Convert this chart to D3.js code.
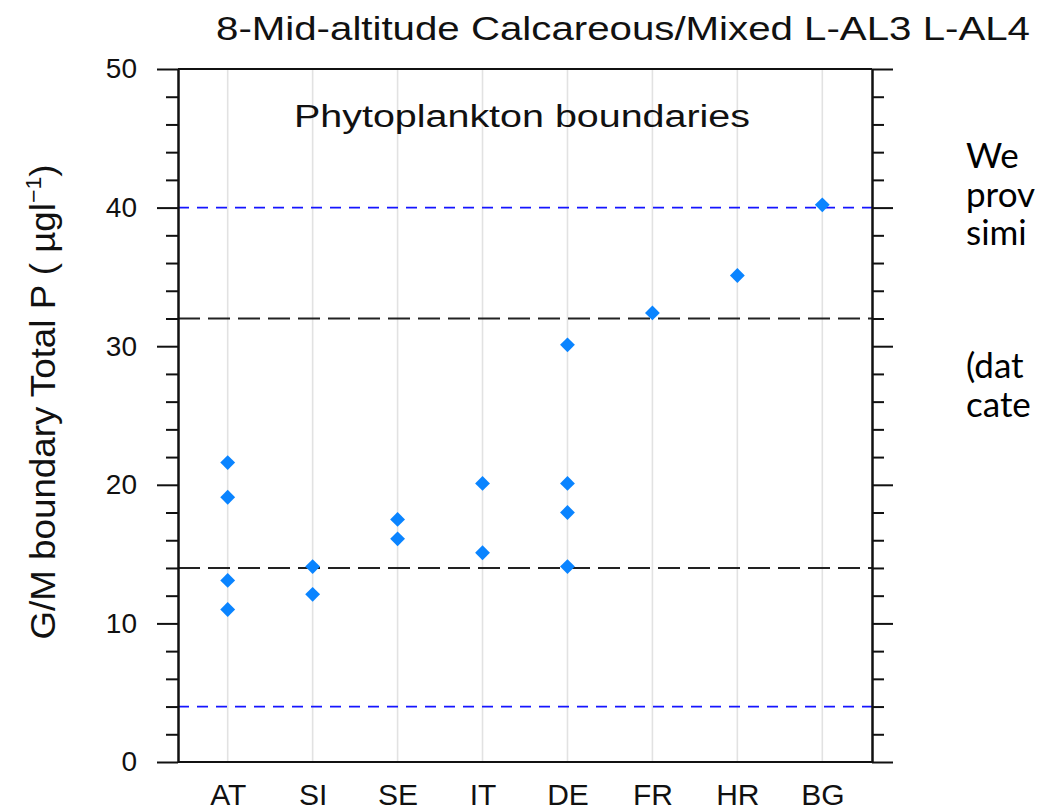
<!DOCTYPE html>
<html><head><meta charset="utf-8">
<script src="https://cdn.jsdelivr.net/npm/d3@7"></script>
<style>html,body{margin:0;padding:0;background:#fff;overflow:hidden}</style>
</head><body>
<svg id="c" width="1039" height="811"></svg>
<script>
const categories = ["AT","SI","SE","IT","DE","FR","HR","BG"];
const values = {
  AT: [21.6, 19.1, 13.1, 11.0],
  SI: [14.1, 12.1],
  SE: [17.5, 16.1],
  IT: [20.1, 15.1],
  DE: [30.1, 20.1, 18.0, 14.1],
  FR: [32.4],
  HR: [35.1],
  BG: [40.2]
};
const majorTicks = [0,10,20,30,40,50];
const minorTicks = [2,4,6,8,12,14,16,18,22,24,26,28,32,34,36,38,42,44,46,48];
const blueLines = [40, 4];
const blackLines = [32, 14];
const title = "8-Mid-altitude Calcareous/Mixed L-AL3 L-AL4";
const subtitle = "Phytoplankton boundaries";
const sideText = ["We", "prov", "simi", "", "(dat", "cate"];

const svg = d3.select("#c");
const L = 178, R = 872, T = 69, B = 762;
const y = d3.scaleLinear().domain([0,50]).range([B,T]);
const x = d3.scalePoint().domain(categories).range([L,R]).padding(0.585);

// gridlines
svg.append("g").selectAll("line").data(categories).join("line")
  .attr("x1", d=>x(d)).attr("x2", d=>x(d)).attr("y1", T).attr("y2", B)
  .attr("stroke", "#e2e2e2").attr("stroke-width", 1.6);

// reference lines
svg.append("g").selectAll("line").data(blueLines).join("line")
  .attr("x1", L).attr("x2", R).attr("y1", d=>y(d)).attr("y2", d=>y(d))
  .attr("stroke", "#1515ff").attr("stroke-width", 1.7).attr("stroke-dasharray", "11,8");
svg.append("g").selectAll("line").data(blackLines).join("line")
  .attr("x1", L).attr("x2", R).attr("y1", d=>y(d)).attr("y2", d=>y(d))
  .attr("stroke", "#222").attr("stroke-width", 1.9).attr("stroke-dasharray", "22,8");

// points
const pts = [];
categories.forEach(c => values[c].forEach(v => pts.push({c, v})));
svg.append("g").selectAll("path").data(pts).join("path")
  .attr("d", d3.symbol().type(d3.symbolSquare).size(110))
  .attr("transform", d=>`translate(${x(d.c)},${y(d.v)}) rotate(45)`)
  .attr("fill", "#0a84ff");

// axes
function styleAxis(g){ g.selectAll("path.domain").attr("stroke","#111").attr("stroke-width",2);
  g.selectAll(".tick line").attr("stroke","#111").attr("stroke-width",2); }
const font = "Liberation Sans, Arial, sans-serif";
svg.append("g").attr("transform",`translate(${L},0)`)
  .call(d3.axisLeft(y).tickValues(minorTicks).tickSize(12).tickFormat("").tickSizeOuter(0)).call(styleAxis);
svg.append("g").attr("transform",`translate(${L},0)`)
  .call(d3.axisLeft(y).tickValues(majorTicks).tickSize(21).tickPadding(20).tickSizeOuter(0)).call(styleAxis)
  .selectAll("text").attr("font-family", font).attr("font-size", 28).attr("fill","#111");
svg.append("g").attr("transform",`translate(${R},0)`)
  .call(d3.axisRight(y).tickValues(minorTicks).tickSize(12).tickFormat("").tickSizeOuter(0)).call(styleAxis);
svg.append("g").attr("transform",`translate(${R},0)`)
  .call(d3.axisRight(y).tickValues(majorTicks).tickSize(21).tickFormat("").tickSizeOuter(0)).call(styleAxis);
// top/bottom frame
svg.append("g").selectAll("line").data([T,B]).join("line")
  .attr("x1", L).attr("x2", R).attr("y1", d=>d).attr("y2", d=>d)
  .attr("stroke","#111").attr("stroke-width",2);

// x labels
const xa = svg.append("g").attr("transform",`translate(0,${B})`)
  .call(d3.axisBottom(x).tickSize(0).tickPadding(22));
xa.select("path.domain").remove();
xa.selectAll("text").attr("font-family", font).attr("font-size", 30).attr("fill","#111");

// title
svg.append("text").attr("x", 216).attr("y", 40).attr("font-family", font).attr("font-size", 34)
  .attr("fill","#111").attr("textLength", 814).attr("lengthAdjust","spacingAndGlyphs").text(title);
svg.append("text").attr("x", 294).attr("y", 127).attr("font-family", font).attr("font-size", 31)
  .attr("fill","#111").attr("textLength", 456).attr("lengthAdjust","spacingAndGlyphs").text(subtitle);

// y label
const yl = svg.append("text").attr("transform", `translate(55,402) rotate(-90)`)
  .attr("text-anchor","middle").attr("font-family", font).attr("font-size", 35).attr("fill","#111")
  .attr("textLength", 475).attr("lengthAdjust","spacingAndGlyphs");
yl.append("tspan").text("G/M boundary Total P ( µgl");
yl.append("tspan").attr("font-size", 22).attr("dy", -14).text("−1");
yl.append("tspan").attr("dy", 14).text(")");

// side text
svg.append("g").selectAll("text").data(sideText).join("text")
  .attr("x", 966).attr("y", (d,i)=> i < 4 ? 168 + i*38.5 : 168 + i*38.5 + 56)
  .attr("font-family", "Lato, Open Sans, sans-serif").attr("font-size", 35).attr("fill","#000")
  .text(d=>d);
</script>
</body></html>
